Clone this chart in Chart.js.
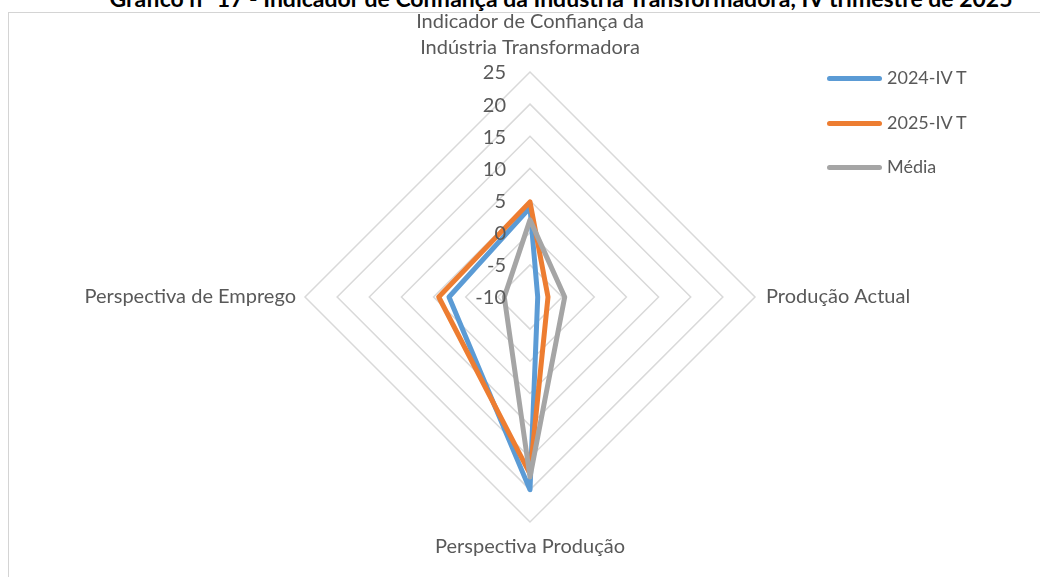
<!DOCTYPE html>
<html>
<head>
<meta charset="utf-8">
<script src="https://cdn.jsdelivr.net/npm/chart.js@4.4.1/dist/chart.umd.min.js"></script>
<style>
    html, body { margin: 0; padding: 0; background: #fff; overflow: hidden; }
    body { width: 1040px; height: 577px; position: relative; font-family: Lato, sans-serif; }
    #frame { position: absolute; left: 8px; top: 12px; width: 1100px; height: 700px; border: 1px solid #d4d4d4; }
    #title { position: absolute; left: 0; width: 1122px; top: -13px; text-align: center; font-size: 23px; line-height: 23px; font-weight: bold; color: #000; white-space: nowrap; }
    #chart { position: absolute; left: 0; top: 0; }
    #legend { position: absolute; left: 827px; top: 66px; }
    .item { height: 44.5px; display: flex; align-items: flex-start; font-size: 18px; color: #595959; }
    .swatch { width: 55px; height: 5px; border-radius: 3px; margin-top: 10px; margin-right: 5px; }
</style>
</head>
<body>
<div id="frame"></div>
<div id="title">Gráfico nº 17 - Indicador de Confiança da Indústria Transformadora, IV trimestre de 2025</div>
<canvas id="chart" width="1040" height="577"></canvas>
<div id="legend"></div>
<script>
// Radar chart - Indicador de Confiança da Indústria Transformadora

const categories = [
    ['Indicador de Confiança da', 'Indústria Transformadora'],
    'Produção Actual',
    'Perspectiva Produção',
    'Perspectiva de Emprego'
];
const seriesNames = ['2024-IV T', '2025-IV T', 'Média'];
const values2024 = [3.9, -8.8, 20.0, 2.6];
const values2025 = [4.8, -7.2, 17.5, 4.2];
const valuesMedia = [2.0, -4.6, 18.0, -6.0];
const tickValues = [-10, -5, 0, 5, 10, 15, 20, 25];

const colors = ['#5B9BD5', '#ED7D31', '#A5A5A5'];
const textColor = '#595959';

// Draws tick numbers left of the vertical axis and the category labels outside the web
const labelsPlugin = {
    id: 'excelLabels',
    afterDraw(chart) {
        const scale = chart.scales.r;
        const ctx = chart.ctx;
        ctx.save();
        ctx.fillStyle = textColor;

        // tick labels
        ctx.font = '20px Lato';
        ctx.textAlign = 'right';
        ctx.textBaseline = 'middle';
        tickValues.forEach(v => {
            const d = scale.getDistanceFromCenterForValue(v);
            ctx.fillText(String(v), scale.xCenter - 24, scale.yCenter - d + 1);
        });

        // category labels
        ctx.font = '20px Lato';
        const r = scale.drawingArea;
        categories.forEach((label, i) => {
            const lines = Array.isArray(label) ? label : [label];
            const p = scale.getPointPosition(i, r);
            if (i === 0) {
                ctx.textAlign = 'center';
                ctx.fillText(lines[1], p.x, p.y - 24);
                ctx.fillText(lines[0], p.x, p.y - 50);
            } else if (i === 1) {
                ctx.textAlign = 'left';
                ctx.fillText(lines[0], p.x + 11, p.y);
            } else if (i === 2) {
                ctx.textAlign = 'center';
                ctx.fillText(lines[0], p.x, p.y + 25);
            } else {
                ctx.textAlign = 'right';
                ctx.fillText(lines[0], p.x - 9, p.y);
            }
        });
        ctx.restore();
    }
};

const allSeries = [values2024, values2025, valuesMedia];

new Chart(document.getElementById('chart'), {
    type: 'radar',
    data: {
        labels: categories,
        datasets: allSeries.map((vals, i) => ({
            label: seriesNames[i],
            data: vals,
            borderColor: colors[i],
            backgroundColor: 'transparent',
            borderWidth: 5,
            borderJoinStyle: 'round',
            borderCapStyle: 'round',
            pointRadius: 0,
            fill: false,
            order: 3 - i
        }))
    },
    options: {
        responsive: false,
        animation: false,
        devicePixelRatio: 1,
        layout: {
            padding: { left: 305, right: 285, top: 72, bottom: 55 }
        },
        plugins: {
            legend: { display: false },
            tooltip: { enabled: false }
        },
        scales: {
            r: {
                min: -10,
                max: 25,
                ticks: { stepSize: 5, display: false },
                grid: { circular: false, color: '#d9d9d9', lineWidth: 1.5 },
                angleLines: { display: false },
                pointLabels: { display: false }
            }
        }
    },
    plugins: [labelsPlugin]
});

// Legend
const legend = document.getElementById('legend');
seriesNames.forEach((name, i) => {
    const item = document.createElement('div');
    item.className = 'item';
    item.innerHTML = `<span class="swatch" style="background:${colors[i]}"></span><span>${name}</span>`;
    legend.appendChild(item);
});
</script>
</body>
</html>
